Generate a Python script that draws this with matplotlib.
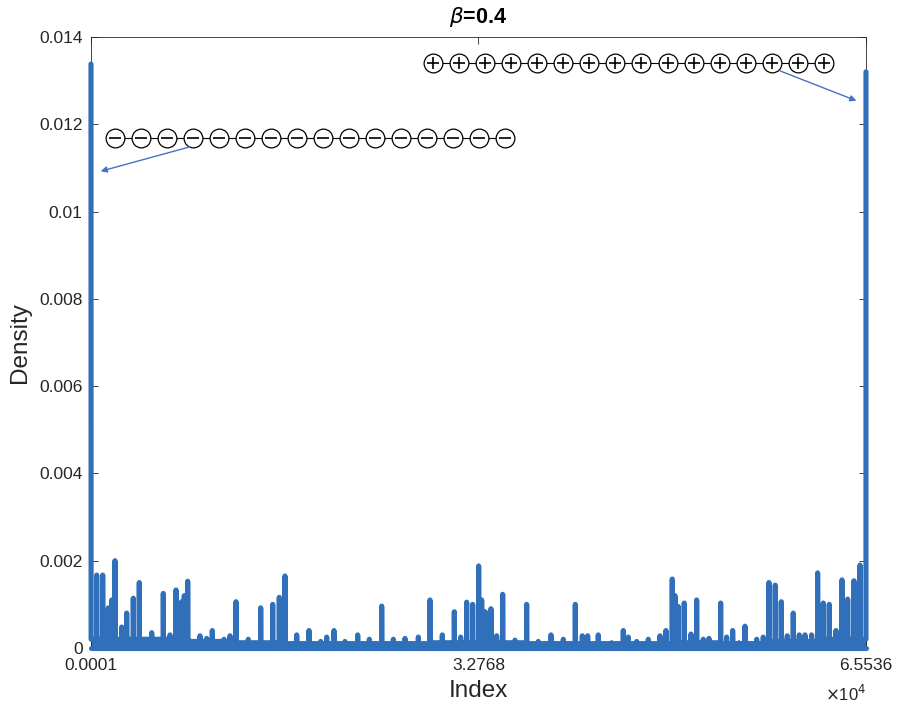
import numpy as np
import matplotlib
matplotlib.use('Agg')
import matplotlib.pyplot as plt
from matplotlib.ticker import FuncFormatter

# Spike positions (index) and densities
n_sites = 65536
spike_index = [1, 483, 990, 1464, 1751, 2030, 2597, 3020, 3578, 4085, 5134, 6115, 6681,
               7188, 7670, 7890, 8177, 9218, 9784, 10258, 11248, 11755, 12262, 13302,
               14351, 15366, 15924, 16406, 17395, 18435, 19424, 19932, 20549, 21471,
               22553, 23535, 24583, 25565, 26553, 27681, 28667, 29710, 30725, 31261,
               31768, 32276, 32783, 33037, 33341, 33825, 34306, 34814, 35854, 36840,
               37825, 38898, 39940, 40955, 41547, 42001, 42897, 44031, 45012, 45435,
               46146, 47127, 48114, 48621, 49154, 49382, 49661, 50168, 50735, 51217,
               51775, 52257, 53246, 53754, 54261, 54794, 55302, 56291, 56849, 57331,
               57864, 58372, 58879, 59386, 59893, 60375, 60939, 61446, 61924, 62431,
               62997, 63505, 63987, 64520, 65027, 65536]
spike_density = [0.01338, 0.00167, 0.00167, 0.00092, 0.0011, 0.0020, 0.00048, 0.0008,
                 0.00114, 0.0015, 0.00035, 0.00125, 0.0003, 0.00133, 0.00106, 0.0012,
                 0.00153, 0.00028, 0.00022, 0.0004, 0.0002, 0.00028, 0.00106, 0.0002,
                 0.00092, 0.001, 0.00116, 0.00165, 0.0003, 0.0004, 0.00015, 0.00025,
                 0.0004, 0.00015, 0.0003, 0.0002, 0.00096, 0.0002, 0.00022, 0.00025,
                 0.0011, 0.0003, 0.00083, 0.00025, 0.00105, 0.001, 0.00188, 0.0011,
                 0.00083, 0.0009, 0.00028, 0.00123, 0.00018, 0.001, 0.00015, 0.0003,
                 0.0002, 0.001, 0.00028, 0.00028, 0.0003, 0.00012, 0.0004, 0.00025,
                 0.00015, 0.0002, 0.00028, 0.0004, 0.00158, 0.0012, 0.00095, 0.00103,
                 0.00032, 0.0011, 0.0002, 0.00022, 0.00103, 0.00025, 0.0004, 0.00012,
                 0.0005, 0.0002, 0.00025, 0.0015, 0.00144, 0.00106, 0.00028, 0.0008,
                 0.0003, 0.0003, 0.0003, 0.00172, 0.00103, 0.001, 0.0004, 0.00156,
                 0.00112, 0.00154, 0.0019, 0.0132]

# Low background density, one level per block of 4096 sites
background_level = [0.0002, 0.0002, 0.00015, 0.00012, 0.0001, 0.0001, 0.0001, 0.00012,
                    0.00012, 0.0001, 0.0001, 0.0001, 0.00012, 0.0001, 0.00015, 0.0002]

x_ticks = [1, 32768, 65536]
y_ticks = [0, 0.002, 0.004, 0.006, 0.008, 0.010, 0.012, 0.014]

line_color = '#3070BA'
axis_color = '#262626'

plt.rcParams['font.family'] = ['Liberation Sans', 'DejaVu Sans']

index = np.arange(1, n_sites + 1)
density = np.repeat(background_level, n_sites // len(background_level))
density[np.array(spike_index) - 1] = spike_density

fig = plt.figure(figsize=(9, 7.18), dpi=100)
ax = fig.add_axes([0.1011, 0.0975, 0.8611, 0.851])

ax.fill_between(index, density, 0, color=line_color, lw=0, zorder=2)
ax.plot(index, density, color=line_color, lw=3.7, solid_joinstyle='round',
        solid_capstyle='round', clip_on=False, zorder=3)
ax.plot([1, n_sites], [0, 0], color=line_color, lw=3.7, solid_capstyle='round',
        clip_on=False, zorder=3)

ax.set_xlim(1, n_sites)
ax.set_ylim(0, 0.014)
ax.set_xticks(x_ticks)
ax.xaxis.set_major_formatter(FuncFormatter(lambda v, p: f'{v / 1e4:.4f}'))
ax.set_yticks(y_ticks)
ax.set_yticklabels([f'{v:.3f}'.rstrip('0').rstrip('.') if v else '0' for v in y_ticks])
ax.tick_params(direction='in', top=True, right=True, length=5, width=0.6,
               colors=axis_color, labelsize=12.5)
ax.tick_params(axis='x', pad=7)
ax.tick_params(axis='y', pad=6)
for sp in ax.spines.values():
    sp.set_color(axis_color)
    sp.set_linewidth(0.6)

ax.set_xlabel('Index', fontsize=17.5, color=axis_color, labelpad=5)
ax.set_ylabel('Density', fontsize=17.5, color=axis_color, labelpad=6)
ax.set_title(r'$\beta$=0.4', fontsize=15.5, fontweight='bold', pad=10)
ax.text(1.0, -0.058, r'$\times$10$^{4}$', transform=ax.transAxes, ha='right', va='top',
        fontsize=12, color=axis_color)

# Spin chains drawn as circles with signs
def draw_chain(x0, x1, y, sign):
    xs = np.linspace(x0, x1, 16)
    ys = np.full(16, y)
    ax.plot(xs, ys, color='black', lw=0.8, transform=ax.transAxes, clip_on=False, zorder=4)
    ax.plot(xs, ys, 'o', ms=13.5, mfc='white', mec='black', mew=0.9,
            transform=ax.transAxes, clip_on=False, zorder=5)
    ax.plot(xs, ys, sign, ms=8.5, mec='black', mew=1.2,
            transform=ax.transAxes, clip_on=False, zorder=6)

draw_chain(0.031, 0.534, 0.835, '_')
draw_chain(0.441, 0.946, 0.957, '+')

arrow_style = dict(arrowstyle='-|>', color='#4472C4', lw=1.0, mutation_scale=9)
ax.annotate('', xy=(0.009, 0.779), xytext=(0.1316, 0.8216), xycoords='axes fraction',
            arrowprops=arrow_style, zorder=7)
ax.annotate('', xy=(0.991, 0.894), xytext=(0.886, 0.946), xycoords='axes fraction',
            arrowprops=arrow_style, zorder=7)

fig.savefig('out.png', dpi=100)
